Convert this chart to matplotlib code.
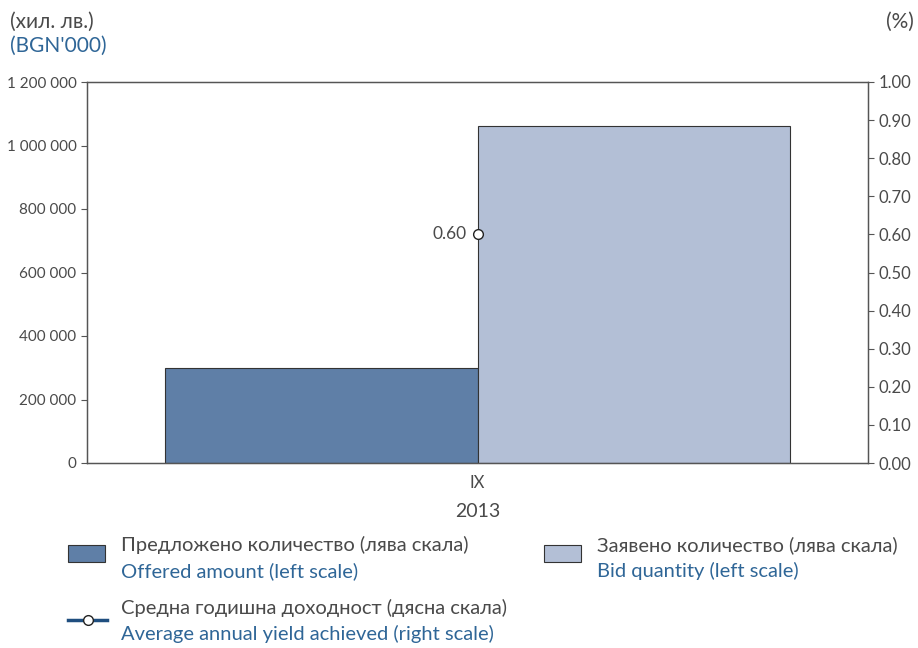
import matplotlib.pyplot as plt
from matplotlib.patches import Rectangle
from matplotlib.lines import Line2D
import numpy as np

plt.rcParams['font.family'] = ['Lato', 'DejaVu Sans']

# data
months = ['IX']
year = '2013'
offered = [300000]
bid = [1060000]
yield_avg = [0.60]

left_ticks = np.arange(0, 1200001, 200000)
right_ticks = np.arange(0, 1.001, 0.1)

grey = '#4a4a4a'
blue = '#2f6697'
c_offered = '#5f7fa7'
c_bid = '#b3bfd6'
c_line = '#1f4e7f'
spine_c = '#555555'

fig = plt.figure(figsize=(9.18, 6.48), dpi=100)
ax = fig.add_axes([87 / 918, 1 - 463 / 648, 781 / 918, 381 / 648])

x = np.arange(len(months))
ax.bar(x - 0.5, offered, width=1.0, color=c_offered, edgecolor='#333333', linewidth=0.8)
ax.bar(x + 0.5, bid, width=1.0, color=c_bid, edgecolor='#333333', linewidth=0.8)
ax.set_xlim(-1.25, 1.25)
ax.set_ylim(0, 1200000)
ax.set_yticks(left_ticks)
ax.set_yticklabels([f'{int(v):,}'.replace(',', ' ') for v in left_ticks])
ax.set_xticks(x)
ax.set_xticklabels(months)
ax.tick_params(axis='both', colors=spine_c, labelcolor=grey, labelsize=11, length=4)
ax.tick_params(axis='x', length=0, pad=9, labelsize=12)
for s in ax.spines.values():
    s.set_color(spine_c)
    s.set_linewidth(1.0)
ax.set_xlabel(year, fontsize=14, color=grey, labelpad=8)

ax2 = ax.twinx()
ax2.set_ylim(0, 1.0)
ax2.set_yticks(right_ticks)
ax2.set_yticklabels([f'{v:.2f}' for v in right_ticks])
ax2.tick_params(axis='y', colors=spine_c, labelcolor=grey, labelsize=12, length=4)
for s in ax2.spines.values():
    s.set_color(spine_c)
ax2.plot(x, yield_avg, color=c_line, linewidth=2.5, marker='o', markersize=7,
         markerfacecolor='white', markeredgecolor='#222222', markeredgewidth=1.0, zorder=5)
for xi, yv in zip(x, yield_avg):
    ax2.annotate(f'{yv:.2f}', (xi, yv), xytext=(-8, 0), textcoords='offset points',
                 ha='right', va='center', fontsize=12.5, color=grey)

# axis units
fig.text(10 / 918, 1 - 22 / 648, '(хил. лв.)', fontsize=15, color=grey, va='center')
fig.text(10 / 918, 1 - 46 / 648, "(BGN'000)", fontsize=15, color=blue, va='center')
fig.text(914 / 918, 1 - 22 / 648, '(%)', fontsize=15, color=grey, va='center', ha='right')

# legend
def fx(px):
    return px / 918

def fy(py):
    return 1 - py / 648

fig.patches.append(Rectangle((fx(68), fy(562)), 37 / 918, 17 / 648, transform=fig.transFigure,
                             facecolor=c_offered, edgecolor='#333333', linewidth=0.8))
fig.text(fx(121), fy(545), 'Предложено количество (лява скала)', fontsize=14.5, color=grey, va='center')
fig.text(fx(121), fy(571), 'Offered amount (left scale)', fontsize=14.5, color=blue, va='center')

fig.patches.append(Rectangle((fx(544), fy(562)), 37 / 918, 17 / 648, transform=fig.transFigure,
                             facecolor=c_bid, edgecolor='#333333', linewidth=0.8))
fig.text(fx(597), fy(545), 'Заявено количество (лява скала)', fontsize=14.5, color=grey, va='center')
fig.text(fx(597), fy(571), 'Bid quantity (left scale)', fontsize=14.5, color=blue, va='center')

fig.lines.append(Line2D([fx(68), fx(107)], [fy(620), fy(620)], transform=fig.transFigure,
                        color=c_line, linewidth=2.5, marker=None))
fig.lines.append(Line2D([fx(88)], [fy(620)], transform=fig.transFigure, marker='o',
                        markersize=7, markerfacecolor='white', markeredgecolor='#222222',
                        markeredgewidth=1.0, linestyle='none'))
fig.text(fx(121), fy(608), 'Средна годишна доходност (дясна скала)', fontsize=14.5, color=grey, va='center')
fig.text(fx(121), fy(634), 'Average annual yield achieved (right scale)', fontsize=14.5, color=blue, va='center')

fig.savefig('out.png', dpi=100)
